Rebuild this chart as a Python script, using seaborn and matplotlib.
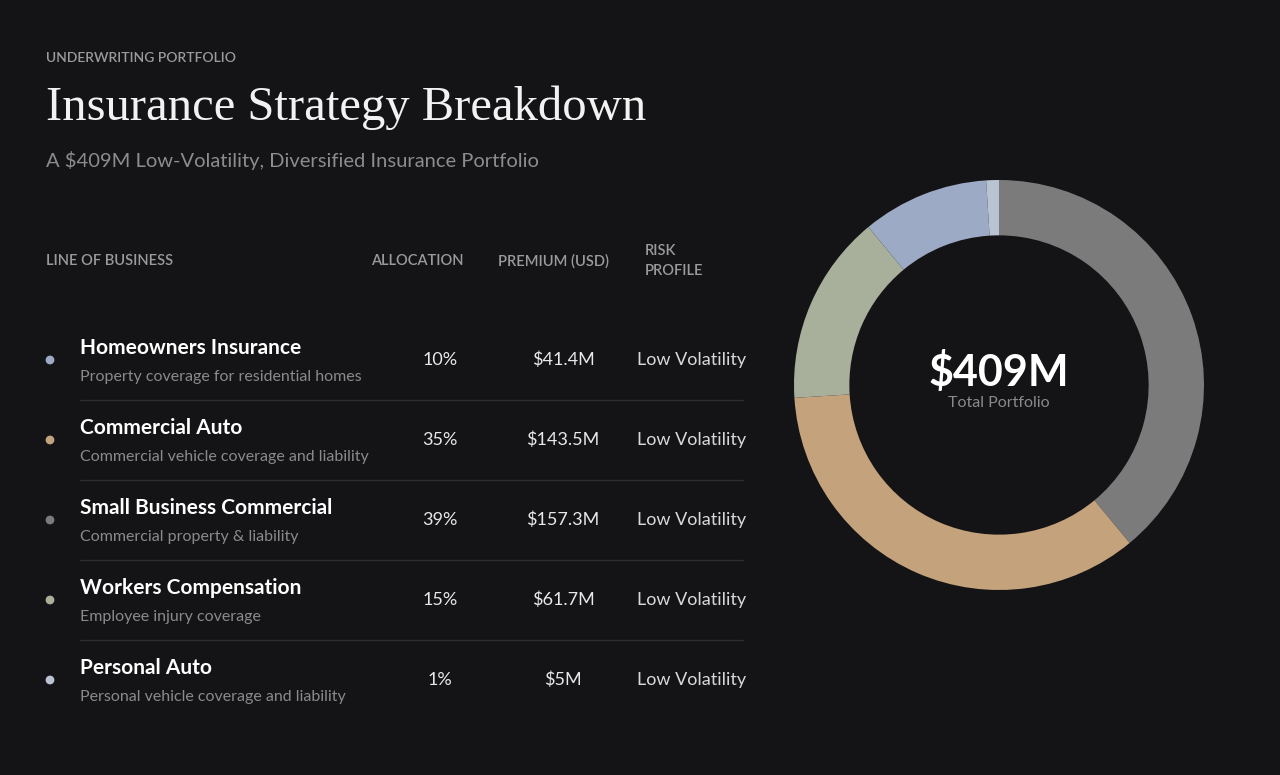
import seaborn as sns
import matplotlib.pyplot as plt

names = ["Homeowners Insurance", "Commercial Auto", "Small Business Commercial",
         "Workers Compensation", "Personal Auto"]
descs = ["Property coverage for residential homes", "Commercial vehicle coverage and liability",
         "Commercial property & liability", "Employee injury coverage",
         "Personal vehicle coverage and liability"]
alloc = [10, 35, 39, 15, 1]
premium = ["$41.4M", "$143.5M", "$157.3M", "$61.7M", "$5M"]
risk = ["Low Volatility"] * 5
colors = ["#9daac6", "#c4a27c", "#7b7b7b", "#a8b09c", "#b9c4d2"]
pie_order = [2, 1, 3, 0, 4]

sns.set_theme(style="dark")
plt.rcParams['font.family'] = ['Lato', 'DejaVu Sans']
BG = "#141416"
W, H = 1280, 775
fig = plt.figure(figsize=(12.8, 7.75), dpi=100, facecolor=BG)

def t(x, y, s, **kw):
    fig.text(x / W, 1 - y / H, s, **kw)

t(46, 58, "UNDERWRITING PORTFOLIO", color="#9a9a9a", fontsize=10, va="center",
  weight="semibold")
t(46, 108, "Insurance Strategy Breakdown", color="#f2f2f2", fontsize=35,
  family=["Liberation Serif"], va="center")
t(46, 160, "A $409M Low-Volatility, Diversified Insurance Portfolio", color="#8c8c8c",
  fontsize=14.5, va="center")

for x, s in [(46, "LINE OF BUSINESS"), (371, "ALLOCATION"), (498, "PREMIUM (USD)"),
             (645, "RISK\nPROFILE")]:
    t(x, 261, s, color="#9a9a9a", fontsize=10.5, va="center", linespacing=1.6,
      weight="semibold")

line_ax = fig.add_axes([0, 0, 1, 1], facecolor="none")
line_ax.set_xlim(0, W)
line_ax.set_ylim(H, 0)
line_ax.axis("off")

for i in range(5):
    y = 360 + 80 * i
    line_ax.scatter([50], [y], s=40, color=colors[i], edgecolors="none")
    t(80, y - 12, names[i], color="white", fontsize=15, weight="bold", va="center")
    t(80, y + 17, descs[i], color="#8a8a8a", fontsize=11.5, va="center")
    t(440, y, f"{alloc[i]}%", color="#e8e8e8", fontsize=13, va="center", ha="center")
    t(563, y, premium[i], color="#e8e8e8", fontsize=13, va="center", ha="center")
    t(637, y, risk[i], color="#d8d8d8", fontsize=13, va="center")
    if i < 4:
        line_ax.plot([80, 743], [y + 40, y + 40], color="#2c2c2e", lw=1)

cx, cy, r = 999, 385, 205
ax = fig.add_axes([(cx - r) / W, 1 - (cy + r) / H, 2 * r / W, 2 * r / H])
ax.pie([alloc[k] for k in pie_order], colors=[colors[k] for k in pie_order],
       startangle=90, counterclock=False, radius=1,
       wedgeprops=dict(width=0.27, linewidth=0, antialiased=True))
ax.set_xlim(-1, 1)
ax.set_ylim(-1, 1)
ax.set_aspect("equal")
ax.set_facecolor("none")
t(cx, 372, "$409M", color="white", fontsize=31, weight="bold", ha="center", va="center")
t(cx, 403, "Total Portfolio", color="#8a8a8a", fontsize=11.5, ha="center", va="center")

plt.savefig("out.png", dpi=100, facecolor=BG)
